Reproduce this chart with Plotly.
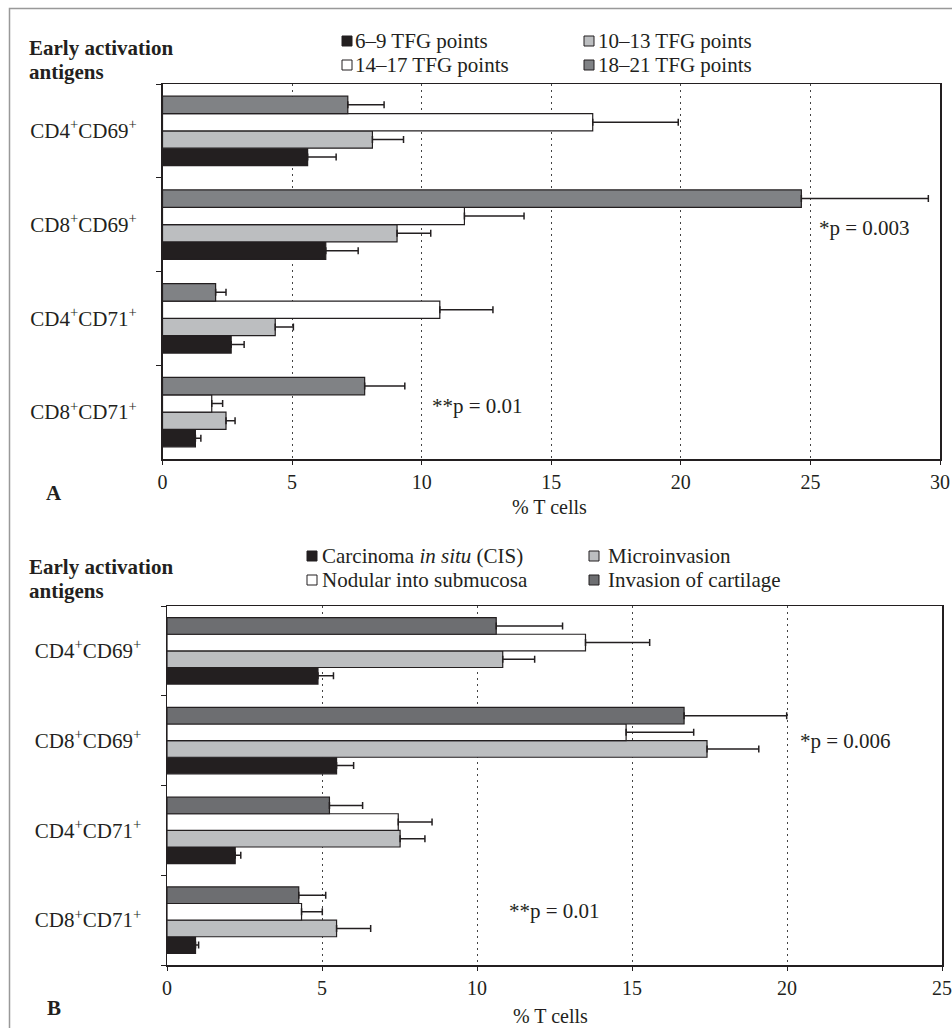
import plotly.graph_objects as go

W, H = 952, 1028

# ---------------- data ----------------
categories = ["CD4<sup>+</sup>CD69<sup>+</sup>", "CD8<sup>+</sup>CD69<sup>+</sup>",
              "CD4<sup>+</sup>CD71<sup>+</sup>", "CD8<sup>+</sup>CD71<sup>+</sup>"]

# Panel A: TFG points groups
names_a = ["6–9 TFG points", "10–13 TFG points", "14–17 TFG points", "18–21 TFG points"]
a_6_9 = [5.6, 6.3, 2.65, 1.27]
a_6_9_err = [1.1, 1.25, 0.5, 0.21]
a_10_13 = [8.1, 9.05, 4.35, 2.45]
a_10_13_err = [1.2, 1.3, 0.7, 0.35]
a_14_17 = [16.6, 11.65, 10.7, 1.9]
a_14_17_err = [3.3, 2.3, 2.05, 0.42]
a_18_21 = [7.15, 24.65, 2.05, 7.8]
a_18_21_err = [1.4, 4.9, 0.4, 1.55]

# Panel B: tumour invasion groups
names_b = ["Carcinoma <i>in situ</i> (CIS)", "Microinvasion",
           "Nodular into submucosa", "Invasion of cartilage"]
b_cis = [4.87, 5.47, 2.2, 0.92]
b_cis_err = [0.5, 0.55, 0.18, 0.1]
b_micro = [10.83, 17.42, 7.52, 5.47]
b_micro_err = [1.03, 1.67, 0.8, 1.1]
b_nod = [13.5, 14.81, 7.46, 4.34]
b_nod_err = [2.07, 2.18, 1.09, 0.67]
b_cart = [10.62, 16.68, 5.24, 4.25]
b_cart_err = [2.14, 3.31, 1.07, 0.87]

p_a = ["*p = 0.003", "**p = 0.01"]
p_b = ["*p = 0.006", "**p = 0.01"]
x_ticks_a = [0, 5, 10, 15, 20, 25, 30]
x_ticks_b = [0, 5, 10, 15, 20, 25]

# ---------------- styles ----------------
BLACK = "#231f20"
LIGHT = "#bcbec0"
WHITE = "#ffffff"
DARK_A = "#808285"
DARK_B = "#6d6e71"
FONT = "Liberation Serif"


def px(x):
    return x / W


def py(y):
    return 1 - y / H


fig = go.Figure()


def add_bars(vals, errs, name, color, xa, ya):
    fig.add_trace(go.Bar(
        y=categories, x=vals, name=name, orientation="h",
        marker=dict(color=color, line=dict(color=BLACK, width=1.2)),
        error_x=dict(type="data", array=errs, arrayminus=[0] * len(errs),
                     symmetric=False, color=BLACK, thickness=1.5, width=3.5),
        xaxis=xa, yaxis=ya, showlegend=False))


# order bottom->top inside each group: black, light, white, dark
add_bars(a_6_9, a_6_9_err, names_a[0], BLACK, "x", "y")
add_bars(a_10_13, a_10_13_err, names_a[1], LIGHT, "x", "y")
add_bars(a_14_17, a_14_17_err, names_a[2], WHITE, "x", "y")
add_bars(a_18_21, a_18_21_err, names_a[3], DARK_A, "x", "y")

add_bars(b_cis, b_cis_err, names_b[0], BLACK, "x2", "y2")
add_bars(b_micro, b_micro_err, names_b[1], LIGHT, "x2", "y2")
add_bars(b_nod, b_nod_err, names_b[2], WHITE, "x2", "y2")
add_bars(b_cart, b_cart_err, names_b[3], DARK_B, "x2", "y2")

xcommon = dict(showgrid=True, gridcolor="#444444", gridwidth=1, griddash="2px,4px",
               showline=True, linecolor=BLACK, linewidth=1.5, mirror=True,
               zeroline=False, ticks="outside", ticklen=4, tickcolor=BLACK,
               tickfont=dict(family=FONT, size=20, color=BLACK),
               ticklabelstandoff=0, automargin=False, fixedrange=True)
ycommon = dict(type="category", categoryorder="array", categoryarray=categories[::-1],
               range=[-0.5, 3.5], showgrid=False, showline=True, linecolor=BLACK,
               linewidth=1.5, mirror=True, ticks="outside", ticklen=5,
               tickson="boundaries", tickcolor=BLACK,
               tickfont=dict(family=FONT, size=21, color=BLACK),
               ticklabelstandoff=20, automargin=False, fixedrange=True)

fig.update_layout(
    width=W, height=H, margin=dict(l=0, r=0, t=0, b=0), autosize=False,
    template="none", paper_bgcolor="white", plot_bgcolor="white",
    barmode="group", bargap=0.26, bargroupgap=0, showlegend=False,
    xaxis=dict(domain=[px(162.5), px(940)], range=[0, 30], tickvals=x_ticks_a,
               anchor="y", **xcommon),
    yaxis=dict(domain=[py(459), py(84)], anchor="x", **ycommon),
    xaxis2=dict(domain=[px(167), px(942)], range=[0, 25], tickvals=x_ticks_b,
                anchor="y2", **xcommon),
    yaxis2=dict(domain=[py(965), py(606)], anchor="x2", **ycommon),
)

shapes = []
annots = []

# outer frame
shapes.append(dict(type="rect", xref="paper", yref="paper",
                   x0=px(9.5), x1=px(960), y0=py(1040), y1=py(8.5),
                   line=dict(color="#999999", width=1.5), fillcolor="rgba(0,0,0,0)",
                   layer="below"))


def text(x, y, s, size=21, bold=False, xanchor="left"):
    if bold:
        s = "<b>" + s + "</b>"
    annots.append(dict(xref="paper", yref="paper", x=px(x), y=py(y), text=s,
                       showarrow=False, xanchor=xanchor, yanchor="middle", borderpad=0,
                       font=dict(family=FONT, size=size, color=BLACK)))


def swatch(x, y, color):
    shapes.append(dict(type="rect", xref="paper", yref="paper",
                       x0=px(x), x1=px(x + 10), y0=py(y + 5), y1=py(y - 5),
                       line=dict(color=BLACK, width=1), fillcolor=color))


# Panel A headings and legend
text(28, 48, "Early activation", bold=True)
text(28, 72, "antigens", bold=True)
swatch(342, 41, BLACK); text(354, 41, names_a[0])
swatch(584, 41, LIGHT); text(597, 41, names_a[1])
swatch(342, 65, WHITE); text(354, 65, names_a[2])
swatch(584, 65, DARK_A); text(597, 65, names_a[3])
text(54, 493, "A", bold=True, xanchor="center")
text(549, 507, "% T cells", size=20, xanchor="center")

# Panel B headings and legend
text(28, 567, "Early activation", bold=True)
text(28, 591, "antigens", bold=True)
swatch(307, 556, BLACK); text(321, 556, names_b[0])
swatch(589, 556, LIGHT); text(607, 556, names_b[1])
swatch(307, 580, WHITE); text(321, 580, names_b[2])
swatch(589, 580, DARK_B); text(607, 580, names_b[3])
text(54, 1008, "B", bold=True, xanchor="center")
text(550, 1016, "% T cells", size=20, xanchor="center")

# p-value notes (data coordinates)
annots.append(dict(xref="x", yref="y", x=27.1, y=1.96, text=p_a[0], showarrow=False,
                   font=dict(family=FONT, size=21, color=BLACK)))
annots.append(dict(xref="x", yref="y", x=12.15, y=0.07, text=p_a[1], showarrow=False,
                   font=dict(family=FONT, size=21, color=BLACK)))
annots.append(dict(xref="x2", yref="y2", x=21.9, y=2.0, text=p_b[0], showarrow=False,
                   font=dict(family=FONT, size=21, color=BLACK)))
annots.append(dict(xref="x2", yref="y2", x=12.5, y=0.1, text=p_b[1], showarrow=False,
                   font=dict(family=FONT, size=21, color=BLACK)))

fig.update_layout(shapes=shapes, annotations=annots)

fig.write_html("out.html", config={"displayModeBar": False, "staticPlot": True},
               post_script="document.body.style.margin='0';")
